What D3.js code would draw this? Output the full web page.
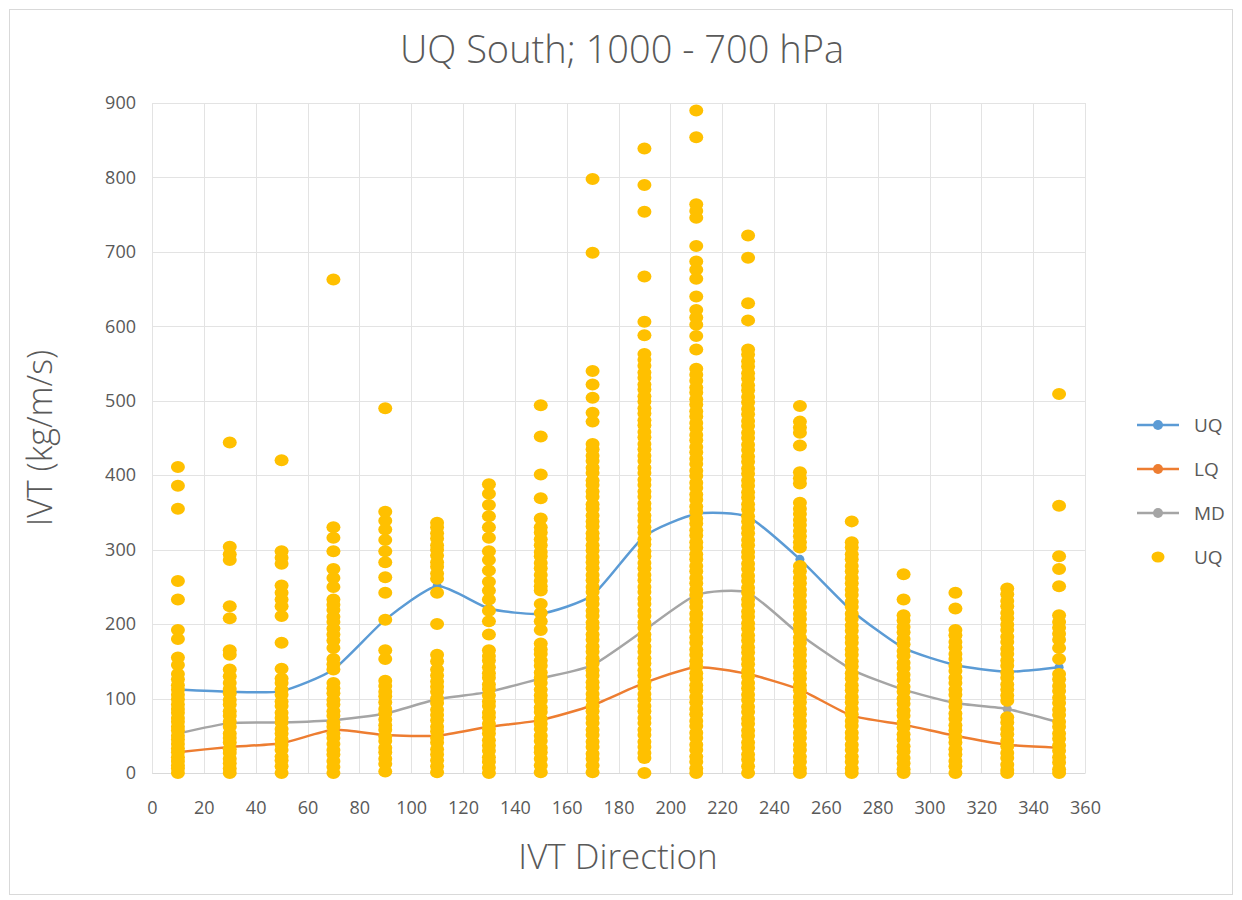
<!DOCTYPE html>
<html>
<head>
<meta charset="utf-8">
<script src="https://cdn.jsdelivr.net/npm/d3@7"></script>
<style>
  body { margin: 0; background: #fff; }
  text { font-family: "Open Sans", sans-serif; fill: #595959; }
</style>
</head>
<body>
<svg id="chart" width="1242" height="900"></svg>
<script>
// directions where the quartile lines are drawn
var directions = [10, 30, 50, 70, 90, 110, 130, 150, 170, 190, 210, 230, 250, 270, 290, 310, 330, 350];
var uq = [112, 109, 110, 139, 206, 251, 221, 214, 239, 318, 348, 344, 287, 218, 168, 145, 136, 142];
var lq = [28, 35, 40, 58, 51, 50, 62, 71, 91, 121, 142, 133, 112, 77, 65, 50, 38, 34];
var md = [53, 67, 68, 71, 80, 99, 109, 127, 145, 192, 239, 242, 186, 139, 112, 94, 86, 68];

// scatter samples, one list per direction bin
var d010 = [411, 386, 355, 258, 233, 192, 180, 155, 145, 133, 126, 118, 112, 105, 99, 92, 86, 81, 74, 69, 62, 57, 50, 45, 39, 33, 28, 21, 16, 10, 6, 0];
var d030 = [444, 304, 294, 286, 224, 208, 165, 159, 139, 130, 121, 113, 107, 98, 92, 83, 77, 69, 62, 53, 47, 41, 32, 27, 19, 13, 6, 0];
var d050 = [420, 298, 289, 281, 252, 242, 233, 224, 211, 175, 140, 127, 121, 112, 105, 96, 90, 81, 74, 68, 59, 53, 45, 38, 31, 22, 17, 9, 0];
var d070 = [663, 330, 316, 298, 274, 262, 250, 233, 226, 219, 210, 203, 194, 186, 178, 168, 153, 146, 139, 121, 114, 107, 98, 92, 83, 77, 68, 62, 53, 47, 39, 31, 25, 16, 8, 0];
var d090 = [490, 351, 339, 327, 313, 298, 283, 263, 242, 206, 165, 153, 124, 117, 109, 103, 95, 86, 80, 72, 64, 58, 49, 43, 34, 28, 19, 12, 2];
var d110 = [336, 330, 322, 315, 306, 300, 292, 283, 277, 268, 261, 242, 200, 159, 150, 139, 131, 123, 116, 109, 100, 94, 85, 78, 71, 62, 56, 47, 41, 32, 25, 17, 9, 1];
var d130 = [388, 375, 360, 345, 330, 316, 298, 286, 272, 257, 245, 233, 218, 204, 186, 165, 157, 151, 142, 134, 128, 119, 113, 104, 96, 90, 81, 75, 66, 59, 53, 44, 37, 30, 21, 15, 7, 0];
var d150 = [494, 452, 401, 369, 342, 330, 323, 314, 306, 297, 291, 282, 275, 266, 258, 251, 245, 227, 215, 204, 192, 174, 166, 160, 151, 144, 135, 128, 121, 112, 104, 97, 88, 82, 73, 66, 59, 50, 43, 34, 28, 19, 10, 1];
var d170 = [798, 699, 540, 522, 504, 484, 472, 442, 435, 426, 419, 410, 403, 393, 387, 378, 371, 361, 355, 346, 338, 331, 322, 315, 306, 299, 290, 283, 275, 266, 259, 250, 243, 234, 227, 218, 211, 202, 195, 186, 179, 170, 163, 154, 147, 138, 131, 122, 115, 106, 99, 90, 83, 74, 67, 58, 51, 42, 35, 26, 19, 10, 1];
var d190 = [839, 790, 754, 667, 606, 588, 563, 555, 547, 538, 531, 522, 515, 506, 499, 490, 483, 474, 467, 458, 451, 442, 435, 426, 419, 410, 403, 394, 387, 378, 371, 362, 355, 346, 339, 330, 323, 314, 307, 298, 291, 282, 275, 266, 259, 250, 243, 234, 227, 218, 211, 202, 195, 186, 179, 170, 163, 154, 147, 138, 131, 122, 115, 106, 99, 90, 83, 74, 67, 58, 51, 42, 35, 27, 20, 0];
var d210 = [890, 854, 764, 755, 746, 708, 687, 676, 664, 640, 622, 612, 602, 587, 569, 543, 535, 527, 518, 511, 502, 495, 486, 479, 470, 463, 454, 447, 438, 431, 422, 415, 406, 399, 390, 383, 374, 367, 358, 351, 342, 335, 326, 319, 310, 303, 294, 287, 278, 271, 262, 255, 246, 239, 230, 223, 214, 207, 198, 191, 182, 175, 166, 159, 150, 143, 134, 127, 118, 111, 102, 95, 86, 79, 70, 63, 54, 47, 38, 31, 22, 15, 6, 0];
var d230 = [722, 692, 631, 608, 569, 562, 553, 546, 537, 530, 521, 514, 505, 498, 489, 482, 473, 466, 457, 450, 441, 434, 425, 418, 409, 402, 393, 386, 377, 370, 361, 354, 345, 338, 329, 322, 313, 306, 297, 290, 281, 274, 265, 258, 249, 242, 233, 226, 217, 210, 201, 194, 185, 178, 169, 162, 153, 146, 137, 130, 121, 114, 105, 98, 89, 82, 73, 66, 57, 50, 41, 34, 25, 18, 9, 0];
var d250 = [493, 472, 464, 457, 440, 404, 396, 389, 363, 355, 348, 340, 333, 325, 318, 310, 303, 278, 271, 262, 255, 246, 239, 230, 223, 214, 207, 198, 191, 182, 175, 166, 159, 150, 143, 134, 127, 118, 111, 102, 95, 86, 79, 70, 63, 54, 47, 38, 31, 22, 15, 6, 0];
var d270 = [338, 310, 303, 294, 287, 278, 271, 262, 255, 246, 239, 230, 223, 214, 207, 198, 191, 182, 175, 166, 159, 150, 143, 134, 127, 118, 111, 102, 95, 86, 79, 70, 63, 54, 47, 38, 31, 22, 15, 6, 0];
var d290 = [267, 233, 212, 205, 196, 189, 180, 173, 164, 157, 148, 141, 132, 125, 116, 109, 100, 93, 84, 77, 68, 61, 52, 45, 36, 29, 20, 13, 5, 0];
var d310 = [242, 221, 192, 185, 176, 169, 160, 153, 144, 137, 128, 121, 112, 105, 96, 89, 80, 73, 64, 57, 48, 41, 32, 25, 16, 9, 0];
var d330 = [248, 240, 231, 224, 215, 208, 199, 192, 183, 176, 167, 160, 151, 144, 135, 128, 119, 112, 104, 97, 75, 68, 59, 52, 43, 36, 27, 20, 11, 4, 0];
var d350 = [509, 359, 291, 274, 251, 212, 203, 195, 187, 179, 168, 153, 133, 126, 117, 110, 101, 94, 85, 78, 69, 62, 53, 46, 37, 30, 21, 14, 5, 0];

var samples = [d010, d030, d050, d070, d090, d110, d130, d150, d170, d190,
               d210, d230, d250, d270, d290, d310, d330, d350];

var xTicks = d3.range(0, 361, 20);
var yTicks = d3.range(0, 901, 100);

var svg = d3.select("#chart");

var margins = {left: 152, right: 157, top: 103, bottom: 127};
var width = 1242 - margins.left - margins.right;
var height = 900 - margins.top - margins.bottom;

var xScale = d3.scaleLinear().domain([0, 360]).range([0, width]);
var yScale = d3.scaleLinear().domain([0, 900]).range([height, 0]);

// outer chart frame
svg.append("rect")
    .attr("x", 9.5).attr("y", 9.5)
    .attr("width", 1223).attr("height", 885)
    .attr("fill", "#fff")
    .attr("stroke", "#d9d9d9");

svg.append("text")
    .attr("x", 622).attr("y", 63)
    .attr("text-anchor", "middle")
    .style("font-size", "38px")
    .style("font-weight", "300")
    .text("UQ South; 1000 - 700 hPa");

var g = svg.append("g")
    .attr("transform", "translate(" + margins.left + "," + margins.top + ")");

// gridlines
g.append("g")
    .selectAll("line")
    .data(yTicks)
    .enter()
    .append("line")
    .attr("x1", 0).attr("x2", width)
    .attr("y1", function(d) { return Math.round(yScale(d)) + 0.5; })
    .attr("y2", function(d) { return Math.round(yScale(d)) + 0.5; })
    .attr("stroke", "#e3e3e3");

g.append("g")
    .selectAll("line")
    .data(xTicks)
    .enter()
    .append("line")
    .attr("y1", 0).attr("y2", height)
    .attr("x1", function(d) { return Math.round(xScale(d)) + 0.5; })
    .attr("x2", function(d) { return Math.round(xScale(d)) + 0.5; })
    .attr("stroke", "#e3e3e3");

// axes (labels only, Excel style)
var xAxis = d3.axisBottom(xScale).tickValues(xTicks).tickSize(0).tickPadding(28);
var yAxis = d3.axisLeft(yScale).tickValues(yTicks).tickSize(0).tickPadding(16);

g.append("g")
    .attr("transform", "translate(0," + height + ")")
    .call(xAxis)
    .call(function(a) { a.select(".domain").attr("stroke", "#d9d9d9"); })
    .selectAll("text")
    .style("font-size", "18px")
    .attr("fill", "#595959");

g.append("g")
    .call(yAxis)
    .call(function(a) { a.select(".domain").remove(); })
    .selectAll("text")
    .style("font-size", "18px")
    .attr("fill", "#595959");

// quartile lines
var series = [
  {name: "UQ", values: uq, color: "#5b9bd5"},
  {name: "LQ", values: lq, color: "#ed7d31"},
  {name: "MD", values: md, color: "#a5a5a5"}
];

var lineGenerator = d3.line()
    .x(function(d, i) { return xScale(directions[i]); })
    .y(function(d) { return yScale(d); })
    .curve(d3.curveCardinal.tension(0.4));

series.forEach(function(s) {
  g.append("path")
      .datum(s.values)
      .attr("fill", "none")
      .attr("stroke", s.color)
      .attr("stroke-width", 2.5)
      .attr("d", lineGenerator);

  g.append("g")
      .selectAll("circle")
      .data(s.values)
      .enter()
      .append("circle")
      .attr("cx", function(d, i) { return xScale(directions[i]); })
      .attr("cy", function(d) { return yScale(d); })
      .attr("r", 4.5)
      .attr("fill", s.color);
});

// scatter of all samples
var points = [];
samples.forEach(function(list, i) {
  list.forEach(function(v) { points.push({dir: directions[i], v: v}); });
});

g.append("g")
    .selectAll("ellipse")
    .data(points)
    .enter()
    .append("ellipse")
    .attr("cx", function(d) { return xScale(d.dir); })
    .attr("cy", function(d) { return yScale(d.v); })
    .attr("rx", 7)
    .attr("ry", 6)
    .attr("fill", "#ffc000");

// axis titles
svg.append("text")
    .attr("x", 618).attr("y", 869)
    .attr("text-anchor", "middle")
    .style("font-size", "35px")
    .style("font-weight", "300")
    .text("IVT Direction");

svg.append("text")
    .attr("transform", "translate(52,438) rotate(-90)")
    .attr("text-anchor", "middle")
    .style("font-size", "34px")
    .style("font-weight", "300")
    .text("IVT (kg/m/s)");

// legend
var legendItems = [
  {name: "UQ", color: "#5b9bd5", line: true},
  {name: "LQ", color: "#ed7d31", line: true},
  {name: "MD", color: "#a5a5a5", line: true},
  {name: "UQ", color: "#ffc000", line: false}
];

var legend = svg.append("g")
    .selectAll("g")
    .data(legendItems)
    .enter()
    .append("g")
    .attr("transform", function(d, i) { return "translate(1137," + (425 + i * 44) + ")"; });

legend.filter(function(d) { return d.line; })
    .append("line")
    .attr("x1", 0).attr("x2", 42)
    .attr("stroke", function(d) { return d.color; })
    .attr("stroke-width", 2.5);

legend.append("ellipse")
    .attr("cx", 21)
    .attr("rx", function(d) { return d.line ? 5 : 6.5; })
    .attr("ry", function(d) { return d.line ? 5 : 5.5; })
    .attr("fill", function(d) { return d.color; });

legend.append("text")
    .attr("x", 57)
    .attr("dy", "0.35em")
    .style("font-size", "19px")
    .text(function(d) { return d.name; });
</script>
</body>
</html>
